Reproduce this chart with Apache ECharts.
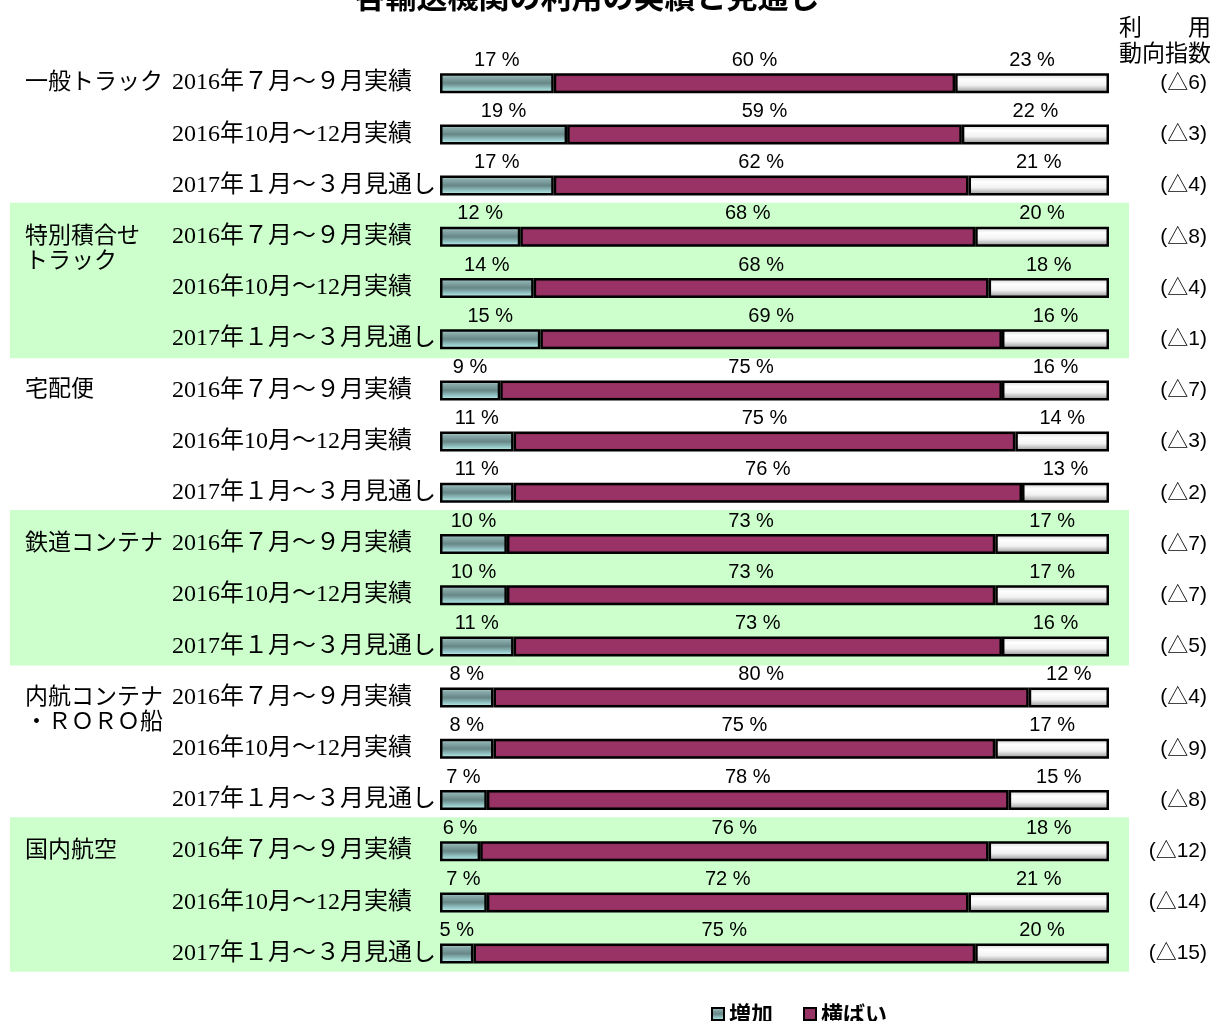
<!DOCTYPE html>
<html>
<head>
<meta charset="utf-8">
<script src="https://cdn.jsdelivr.net/npm/echarts@6/dist/echarts.min.js"></script>
<style>html,body{margin:0;padding:0;background:#fff}#c{width:1210px;height:1021px}</style>
</head>
<body>
<div id="c"></div>
<script>
const groups = ['一般トラック', '特別積合せ\nトラック', '宅配便', '鉄道コンテナ', '内航コンテナ\n・ＲＯＲＯ船', '国内航空'];
const periods = ['2016年７月～９月実績', '2016年10月～12月実績', '2017年１月～３月見通し'];
const shadedGroups = [1, 3, 5];
const increase = [17, 19, 17, 12, 14, 15, 9, 11, 11, 10, 10, 11, 8, 8, 7, 6, 7, 5];
const flat     = [60, 59, 62, 68, 68, 69, 75, 75, 76, 73, 73, 73, 80, 75, 78, 76, 72, 75];
const decrease = [23, 22, 21, 20, 18, 16, 16, 14, 13, 17, 17, 16, 12, 17, 15, 18, 21, 20];
const indexLabels = ['(△6)', '(△3)', '(△4)', '(△8)', '(△4)', '(△1)', '(△7)', '(△3)', '(△2)',
                     '(△7)', '(△7)', '(△5)', '(△4)', '(△9)', '(△8)', '(△12)', '(△14)', '(△15)'];
const seriesNames = ['増加', '横ばい', '減少'];

const rows = [];
groups.forEach((g, gi) => periods.forEach((p, pi) => rows.push({ g: gi, p: pi, key: gi + '-' + pi })));
const cats = rows.map(r => r.key);

const chart = echarts.init(document.getElementById('c'), null, { renderer: 'canvas' });

const lg = (stops) => new echarts.graphic.LinearGradient(0, 0, 0, 1, stops.map(s => ({ offset: s[0], color: s[1] })));
const fills = [
  lg([[0, '#c2e2e2'], [0.2, '#8aabab'], [0.5, '#678787'], [0.8, '#9ccfcf'], [1, '#d6ffff']]),
  lg([[0, '#6a2246'], [0.2, '#993366'], [0.8, '#993366'], [1, '#6a2246']]),
  lg([[0, '#d0d0d0'], [0.3, '#ffffff'], [0.6, '#f2f2f2'], [1, '#8c8c8c']])
];
const values = [increase, flat, decrease];

const rowFont = "'Liberation Serif', 'Noto Sans CJK JP', serif";
const gridTop = 57.6, gridH = 921.6, bgTop = 50.1;

const option = {
  backgroundColor: '#ffffff',
  animation: false,
  title: [
    { text: '各輸送機関の利用の実績と見通し', left: 582, textAlign: 'center', top: -24,
      textStyle: { fontFamily: "'Noto Sans CJK JP'", fontWeight: 'bold', fontSize: 31, color: '#000' } },
    { text: '利　　用\n動向指数', left: 1114, top: 11,
      textStyle: { fontFamily: rowFont, fontWeight: 'normal', fontSize: 23, lineHeight: 26, color: '#000' } }
  ],
  legend: {
    data: ['増加', '横ばい'], left: 706, top: 998, itemWidth: 12, itemHeight: 12, itemGap: 30,
    icon: 'rect',
    textStyle: { fontFamily: "'Noto Sans CJK JP'", fontWeight: 'bold', fontSize: 22, color: '#000' }
  },
  grid: [
    { left: 440, right: 101, top: gridTop, height: gridH },
    { left: 10, right: 81, top: bgTop, height: gridH }
  ],
  xAxis: [
    { type: 'value', gridIndex: 0, min: 0, max: 100, show: false },
    { type: 'value', gridIndex: 1, min: 0, max: 1, show: false }
  ],
  yAxis: [
    { type: 'category', gridIndex: 0, data: cats, inverse: true, position: 'left',
      axisLine: { show: false }, axisTick: { show: false },
      axisLabel: { interval: 0, margin: 268, align: 'left', fontFamily: rowFont, fontSize: 24, color: '#000',
        padding: [4, 0, 0, 0],
        formatter: v => periods[+v.split('-')[1]] } },
    { type: 'category', gridIndex: 0, data: cats, inverse: true, position: 'left',
      axisLine: { show: false }, axisTick: { show: false },
      axisLabel: { interval: 0, margin: 415, align: 'left', fontFamily: rowFont, fontSize: 23, lineHeight: 25,
        color: '#000', padding: [4, 0, 0, 0],
        formatter: v => {
          const [g, p] = v.split('-').map(Number);
          if (p !== 0) return '';
          const t = groups[g];
          return t.indexOf('\n') >= 0 ? '　\n' + t : t;
        } } },
    { type: 'category', gridIndex: 0, data: cats, inverse: true, position: 'right',
      axisLine: { show: false }, axisTick: { show: false },
      axisLabel: { interval: 0, margin: 98, align: 'right', fontFamily: "'Liberation Sans', 'Noto Sans CJK JP', sans-serif",
        fontSize: 21, color: '#000', formatter: (v, i) => indexLabels[i] } },
    { type: 'category', gridIndex: 1, data: cats, inverse: true, show: false }
  ],
  series: [
    {
      type: 'bar', name: 'bg', xAxisIndex: 1, yAxisIndex: 3, barWidth: 53, z: 0, silent: true,
      itemStyle: { color: '#ccffcc' },
      data: rows.map(r => shadedGroups.indexOf(r.g) >= 0 ? 1 : '-')
    }
  ].concat(values.map((arr, si) => ({
    type: 'bar', name: seriesNames[si], stack: 'all', xAxisIndex: 0, yAxisIndex: 0, barWidth: 20, z: 3,
    itemStyle: { color: fills[si], borderColor: '#000', borderWidth: 2.5 },
    label: { show: true, position: 'top', distance: 3, color: '#000',
      fontFamily: "'Liberation Sans Narrow', 'Liberation Sans', sans-serif", fontSize: 20,
      formatter: p => p.value + ' %' },
    data: arr
  })))
};
chart.setOption(option);
</script>
</body>
</html>
